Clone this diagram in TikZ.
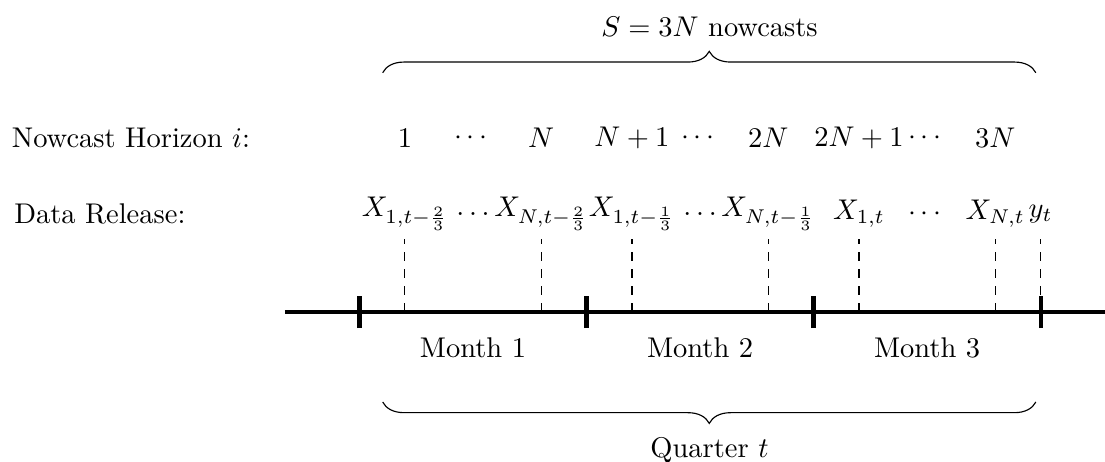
\documentclass[tikz,border=0pt]{standalone}
\usepackage{tikz}
\usepackage{amsmath,amssymb}
\usetikzlibrary{decorations.pathreplacing}
\tikzset{
  axisln/.style={draw=black, line width=1.1pt},
  mtick/.style={draw=black, line width=1.5pt},
  rel/.style={draw=black, line width=0.4pt, dashed},
  brc/.style={draw=black, line width=0.4pt, decorate, decoration={brace, amplitude=7.5pt}},
  lbl/.style={font=\normalsize, inner sep=0pt},
  rowname/.style={font=\normalsize, inner sep=0pt, anchor=west},
  hdr/.style={font=\normalsize, inner sep=0pt, anchor=base},
}

\begin{document}
\begin{tikzpicture}[x=1cm,y=1cm,baseline=0cm]
  \useasboundingbox (-4.433,-1.850) rectangle (9.193,3.847);
  % time line
  \coordinate (axL) at (-0.920,0.000);
  \coordinate (axR) at (9.300,0.000);
  \draw[axisln] (axL) -- (axR);
  \draw[mtick] (0.000,-0.200) -- (0.000,0.200);
  \draw[mtick] (2.800,-0.200) -- (2.800,0.200);
  \draw[mtick] (5.600,-0.200) -- (5.600,0.200);
  \draw[mtick] (8.400,-0.200) -- (8.400,0.200);
  \node[lbl] (m1) at (1.400,-0.440) {Month 1};
  \node[lbl] (m2) at (4.200,-0.440) {Month 2};
  \node[lbl] (m3) at (7.000,-0.440) {Month 3};
  % release marks
  \coordinate (a1) at (0.560,0.000);  \coordinate (d1) at (0.560,0.900);
  \coordinate (a2) at (2.240,0.000);  \coordinate (d2) at (2.240,0.900);
  \coordinate (a3) at (3.360,0.000);  \coordinate (d3) at (3.360,0.900);
  \coordinate (a4) at (5.040,0.000);  \coordinate (d4) at (5.040,0.900);
  \coordinate (a5) at (6.160,0.000);  \coordinate (d5) at (6.160,0.900);
  \coordinate (a6) at (7.840,0.000);  \coordinate (d6) at (7.840,0.900);
  \coordinate (a7) at (8.400,0.000);  \coordinate (d7) at (8.400,0.900);
  \draw[rel] (a1) -- (d1);
  \draw[rel] (a2) -- (d2);
  \draw[rel] (a3) -- (d3);
  \draw[rel] (a4) -- (d4);
  \draw[rel] (a5) -- (d5);
  \draw[rel] (a6) -- (d6);
  \draw[rel] (a7) -- (d7);
  % data release row
  \node[rowname] (drl) at (-4.263,1.210) {Data Release:};
  \node[lbl] (x1a) at (0.560,1.210) {$X_{1,t-\frac{2}{3}}$};
  \node[lbl] (dta) at (1.400,1.210) {$\ldots$};
  \node[lbl] (xna) at (2.240,1.210) {$X_{N,t-\frac{2}{3}}$};
  \node[lbl] (x1b) at (3.360,1.210) {$X_{1,t-\frac{1}{3}}$};
  \node[lbl] (dtb) at (4.200,1.210) {$\ldots$};
  \node[lbl] (xnb) at (5.040,1.210) {$X_{N,t-\frac{1}{3}}$};
  \node[lbl] (x1c) at (6.160,1.210) {$X_{1,t}$};
  \node[lbl] (dtc) at (7.000,1.210) {$\cdots$};
  \node[lbl] (xnc) at (7.840,1.210) {$X_{N,t}$};
  \node[lbl] (yq) at (8.400,1.210) {$y_t$};
  % horizon row
  \node[rowname] (hzl) at (-4.293,2.145) {Nowcast Horizon $i$:};
  \node[lbl] (h1) at (0.560,2.145) {$1$};
  \node[lbl] (hd1) at (1.400,2.145) {$\cdots$};
  \node[lbl] (h2) at (2.240,2.145) {$N$};
  \node[lbl] (h3) at (3.360,2.145) {$N+1$};
  \node[lbl] (hd2) at (4.200,2.145) {$\cdots$};
  \node[lbl] (h4) at (5.040,2.145) {$2N$};
  \node[lbl] (h5) at (6.160,2.145) {$2N+1$};
  \node[lbl] (hd3) at (7.000,2.145) {$\cdots$};
  \node[lbl] (h6) at (7.840,2.145) {$3N$};
  % braces
  \coordinate (bt1) at (0.286,2.950);
  \coordinate (bt2) at (8.340,2.950);
  \draw[brc] (bt1) -- (bt2);
  \node[hdr] (nct) at (4.316,3.400) {$S=3N$ nowcasts};
  \coordinate (bb1) at (8.340,-1.110);
  \coordinate (bb2) at (0.286,-1.110);
  \draw[brc] (bb1) -- (bb2);
  \node[hdr] (qtr) at (4.316,-1.790) {Quarter $t$};
\end{tikzpicture}
\end{document}
